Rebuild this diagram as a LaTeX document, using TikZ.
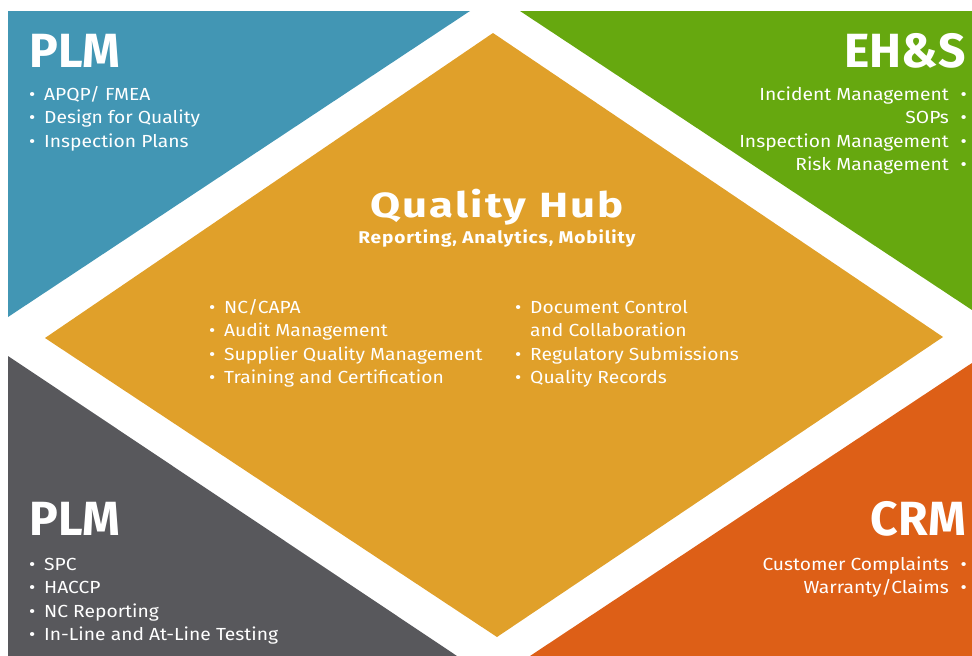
\documentclass[tikz,border=0pt]{standalone}
\usepackage{fontspec}
\setmainfont{Fira Sans}
\newfontfamily\bodyfont[FakeStretch=1.1]{Fira Sans}
\newfontfamily\hubfont[FakeStretch=1.25,LetterSpace=6]{Fira Sans}
\newfontfamily\subfont[FakeStretch=1.12,LetterSpace=5]{Fira Sans}
\usetikzlibrary{positioning}
\definecolor{plmblue}{HTML}{4296B4}
\definecolor{ehsgreen}{HTML}{66A80F}
\definecolor{hubgold}{HTML}{E0A02A}
\definecolor{plmgray}{HTML}{58585C}
\definecolor{crmorange}{HTML}{DD5F17}
\newcommand{\itm}[1]{\makebox[15pt][l]{\textbullet}#1}
\newcommand{\itmr}[1]{#1\makebox[18pt][r]{\textbullet}}

\begin{document}
\begin{tikzpicture}[x=1pt,y=-1pt,text=white,
  font=\bodyfont\fontsize{17.5}{23.5}\selectfont]
\tikzstyle{head}=[font=\rmfamily\fontsize{48}{48}\selectfont\bfseries,inner sep=0pt]
\tikzstyle{li}=[inner sep=0pt,anchor=base west]
\tikzstyle{ri}=[inner sep=0pt,anchor=base east]
\useasboundingbox (0,0) rectangle (972,656);
% corner panels
\fill[plmblue]   (8,11) -- (470,11) -- (8,317) -- cycle;
\fill[ehsgreen]  (520,11) -- (972,11) -- (972,310) -- cycle;
\fill[plmgray]   (8,356) -- (457,656) -- (8,656) -- cycle;
\fill[crmorange] (972,363) -- (972,656) -- (530,656) -- cycle;
% hub
\fill[hubgold] (493,33) -- (943,337) -- (497,637) -- (45,338) -- cycle;

% top left
\node[head,anchor=base west] (plmA) at (29,67) {PLM};
\foreach \t [count=\i from 0] in {APQP/ FMEA,Design for Quality,Inspection Plans}
  \node[li] (plmA-\i) at (29,100+23.5*\i) {\itm{\t}};

% top right
\node[head,anchor=base east] (ehs) at (966,67) {EH\&S};
\foreach \t [count=\i from 0] in {Incident Management,SOPs,Inspection Management,Risk Management}
  \node[ri] (ehs-\i) at (967,100+23.5*\i) {\itmr{\t}};

% hub
\node[inner sep=0pt,anchor=base,font=\hubfont\fontsize{35}{35}\selectfont\bfseries]
  (hub) at (497,217) {Quality Hub};
\node[inner sep=0pt,anchor=base,font=\subfont\fontsize{17}{17}\selectfont\bfseries]
  (hubsub) at (497,243) {Reporting, Analytics, Mobility};
\foreach \t [count=\i from 0] in {NC/CAPA,Audit Management,Supplier Quality Management,Training and Certification}
  \node[li] (hubL-\i) at (209,313+23.5*\i) {\itm{\t}};
\node[li] (hubR-0) at (515,313) {\itm{Document Control}};
\node[li] (hubR-1) at (515,336.5) {\hspace*{15pt}and Collaboration};
\node[li] (hubR-2) at (515,360) {\itm{Regulatory Submissions}};
\node[li] (hubR-3) at (515,383.5) {\itm{Quality Records}};

% bottom left
\node[head,anchor=base west] (plmB) at (29,535) {PLM};
\foreach \t [count=\i from 0] in {SPC,HACCP,NC Reporting,In-Line and At-Line Testing}
  \node[li] (plmB-\i) at (29,570+23.5*\i) {\itm{\t}};

% bottom right
\node[head,anchor=base east] (crm) at (966,535) {CRM};
\foreach \t [count=\i from 0] in {Customer Complaints,Warranty/Claims}
  \node[ri] (crm-\i) at (967,570+23.5*\i) {\itmr{\t}};
\end{tikzpicture}
\end{document}
